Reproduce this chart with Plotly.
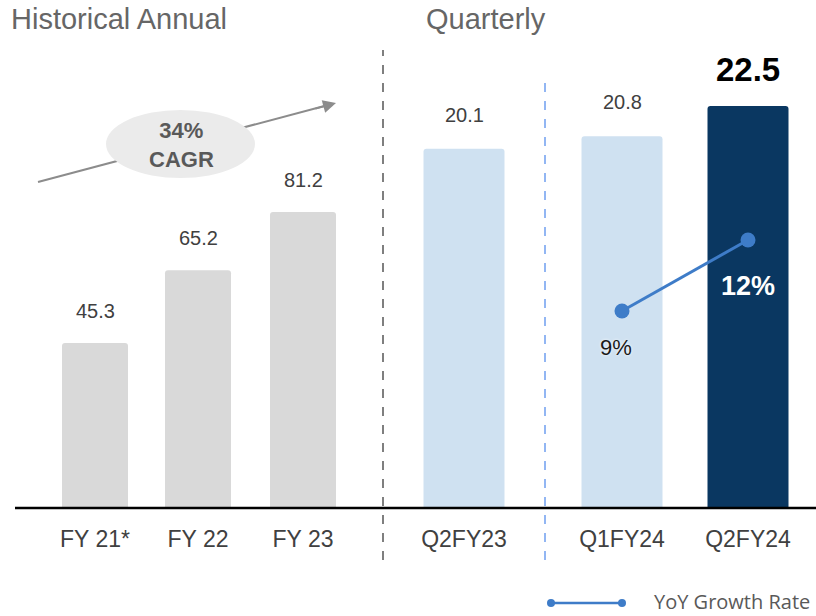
import plotly.graph_objects as go

# ---- data ----
annual_labels = ["FY 21*", "FY 22", "FY 23"]
annual_values = [45.3, 65.2, 81.2]
quarter_labels = ["Q2FY23", "Q1FY24", "Q2FY24"]
quarter_values = [20.1, 20.8, 22.5]
growth_labels = ["Q1FY24", "Q2FY24"]
growth_values = [9, 12]
cagr_text = "34%<br>CAGR"
legend_name = "YoY Growth Rate"

# ---- layout helpers ----
OFF = 0
W, H = 816, 616
BASE = 508                      # baseline y (window pixels)
PLOT_H = BASE - OFF
annual_pos = [95, 198, 303]     # category slot centres on a linear x axis
quarter_pos = [464, 622, 748]
pos_of = dict(zip(annual_labels + quarter_labels, annual_pos + quarter_pos))
FONT = "Liberation Sans, Arial, sans-serif"

def py(pix):  # window pixel y -> paper y
    return (BASE - pix) / PLOT_H

def px(pix):  # window pixel x -> paper x
    return (pix - OFF) / W

fig = go.Figure()

fig.add_trace(go.Bar(
    x=[pos_of[c] for c in annual_labels], y=annual_values, width=[66] * 3,
    marker=dict(color="#d9d9d9", line=dict(width=0)), yaxis="y", hoverinfo="skip",
    showlegend=False))
fig.add_trace(go.Bar(
    x=[pos_of[c] for c in quarter_labels], y=quarter_values, width=[81] * 3,
    marker=dict(color=["#cfe1f1", "#cfe1f1", "#0a3761"], line=dict(width=0)),
    yaxis="y2", hoverinfo="skip", showlegend=False))
fig.add_trace(go.Scatter(
    x=[pos_of[c] for c in growth_labels], y=growth_values, yaxis="y3",
    mode="lines+markers", line=dict(color="#3e7cc8", width=3),
    marker=dict(size=15, color="#3e7cc8"), name=legend_name, showlegend=False))

ann = []
for c, v in zip(annual_labels, annual_values):
    ann.append(dict(x=pos_of[c], y=v, xref="x", yref="y", text=f"{v:.1f}", showarrow=False,
                    yanchor="middle", yshift=32,
                    font=dict(family=FONT, size=20, color="#404040")))
for i, (c, v) in enumerate(zip(quarter_labels, quarter_values)):
    last = i == len(quarter_values) - 1
    ann.append(dict(x=pos_of[c], y=v, xref="x", yref="y2",
                    text=(f"<b>{v:.1f}</b>" if last else f"{v:.1f}"), showarrow=False,
                    yanchor="middle", yshift=36 if last else 34,
                    font=dict(family=FONT, size=33 if last else 20,
                              color="#000000" if last else "#404040")))
ann.append(dict(x=pos_of[growth_labels[0]] - 6, y=growth_values[0], xref="x", yref="y3",
                text=f"{growth_values[0]}%", showarrow=False, yanchor="middle", yshift=-36,
                font=dict(family=FONT, size=22, color="#1a1a1a", shadow="0px 0px 3px white")))
ann.append(dict(x=pos_of[growth_labels[1]], y=growth_values[1], xref="x", yref="y3",
                text=f"<b>{growth_values[1]}%</b>", showarrow=False, yanchor="middle", yshift=-46,
                font=dict(family=FONT, size=27, color="#ffffff")))
ann.append(dict(x=px(9), y=py(19), xref="paper", yref="paper", xanchor="left", yanchor="middle",
                text="Historical Annual", showarrow=False,
                font=dict(family=FONT, size=29, color="#666666")))
ann.append(dict(x=px(424), y=py(19), xref="paper", yref="paper", xanchor="left", yanchor="middle",
                text="Quarterly", showarrow=False,
                font=dict(family=FONT, size=29, color="#666666")))
ann.append(dict(x=181, y=py(145), xref="x", yref="paper", yanchor="middle",
                text=f"<b>{cagr_text}</b>", showarrow=False,
                font=dict(family=FONT, size=22, color="#595959")))
ann.append(dict(x=336, y=py(103), xref="x", yref="paper", ax=-22, ay=6, text="",
                showarrow=True, arrowhead=2, arrowsize=1.3, arrowwidth=2, arrowcolor="#8c8c8c"))
ann.append(dict(x=px(812), y=py(601), xref="paper", yref="paper", xanchor="right", yanchor="middle",
                text=legend_name, showarrow=False,
                font=dict(family="Open Sans, sans-serif", size=20, color="#595959")))

shapes = [
    dict(type="line", xref="x", yref="paper", x0=38, y0=py(182), x1=330, y1=py(104.5),
         line=dict(color="#8c8c8c", width=2)),
    dict(type="circle", xref="x", yref="paper", x0=106, x1=255, y0=py(178), y1=py(110),
         fillcolor="#ebebeb", line=dict(width=0)),
    dict(type="line", xref="paper", yref="paper", x0=px(15), x1=1, y0=0, y1=0,
         line=dict(color="#000000", width=2.5)),
    dict(type="line", xref="x", yref="paper", x0=383, x1=383, y0=py(560), y1=py(50),
         line=dict(color="#555555", width=1.5, dash="dash")),
    dict(type="line", xref="x", yref="paper", x0=545, x1=545, y0=py(560), y1=py(76),
         line=dict(color="#6f9ff0", width=1.5, dash="dash")),
    dict(type="line", xref="paper", yref="paper", x0=px(551), x1=px(622), y0=py(603), y1=py(603),
         line=dict(color="#3e7cc8", width=2.5)),
    dict(type="circle", xref="paper", yref="paper", x0=px(547), x1=px(555), y0=py(607), y1=py(599),
         fillcolor="#3e7cc8", line=dict(width=0)),
    dict(type="circle", xref="paper", yref="paper", x0=px(618), x1=px(626), y0=py(607), y1=py(599),
         fillcolor="#3e7cc8", line=dict(width=0)),
]

fig.update_layout(
    width=W, height=H, margin=dict(l=0, r=0, t=0, b=H - PLOT_H),
    paper_bgcolor="white", plot_bgcolor="white",
    barmode="overlay", barcornerradius=3,
    xaxis=dict(range=[OFF, 816], tickvals=[pos_of[c] for c in annual_labels + quarter_labels],
               ticktext=annual_labels + quarter_labels, showgrid=False, zeroline=False,
               showline=False, ticks="outside", ticklen=10, tickcolor="rgba(0,0,0,0)",
               tickfont=dict(family=FONT, size=23, color="#404040"), fixedrange=True),
    yaxis=dict(range=[0, PLOT_H / 3.645], visible=False, fixedrange=True),
    yaxis2=dict(range=[0, PLOT_H / 17.87], overlaying="y", visible=False, fixedrange=True),
    yaxis3=dict(range=[0.676, 0.676 + PLOT_H / 23.667], overlaying="y", visible=False,
                fixedrange=True),
    annotations=ann, shapes=shapes,
)

fig.write_html("out.html", config={"displayModeBar": False},
               post_script="document.body.style.margin='0px';document.body.style.overflow='hidden';")
